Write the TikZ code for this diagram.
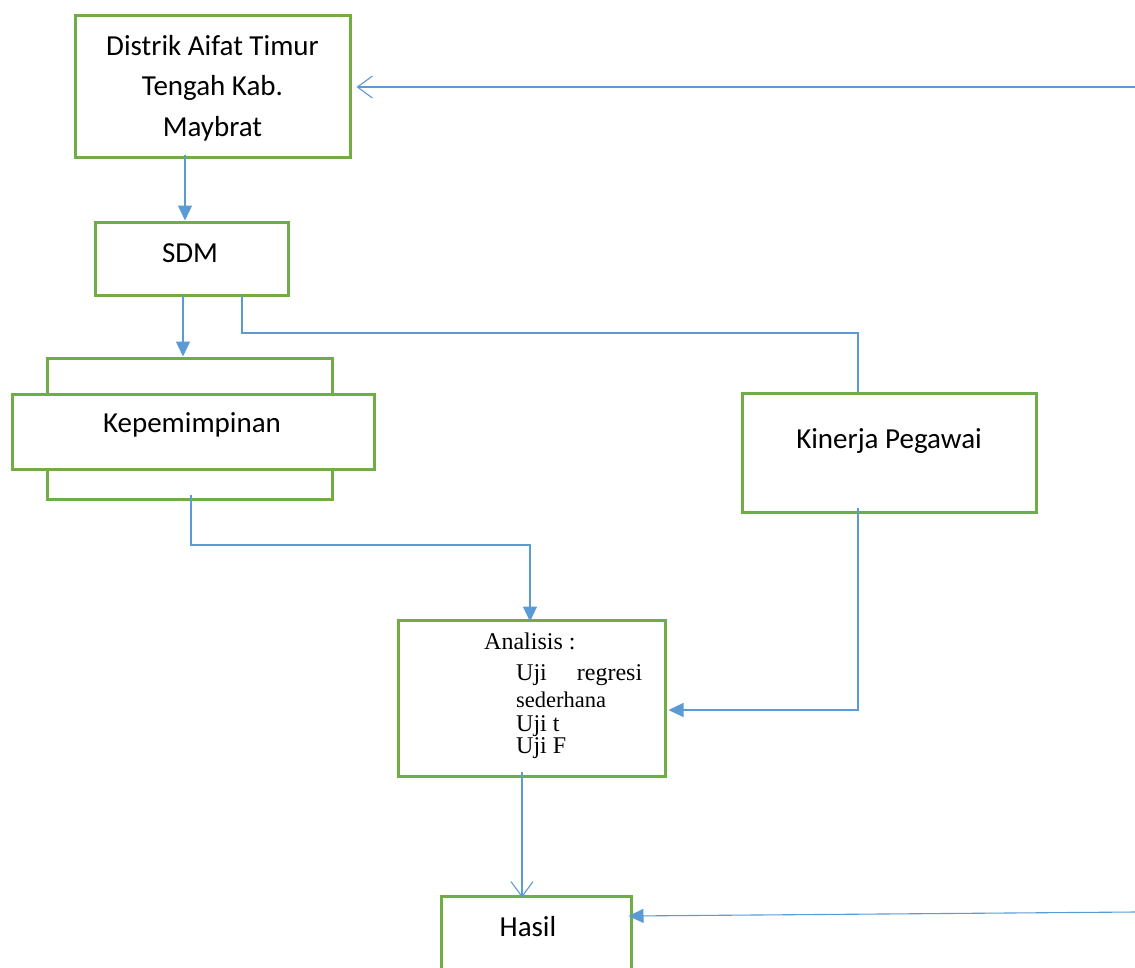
\documentclass[tikz,border=0pt]{standalone}
\usepackage{fontspec}
\setmainfont{Carlito}
\newfontfamily\serifr{Liberation Serif}
\usetikzlibrary{arrows.meta,positioning}
\definecolor{boxgreen}{HTML}{70AD47}
\definecolor{lineblue}{HTML}{5B9BD5}
\tikzset{
  gbox/.style={draw=boxgreen, line width=3pt, fill=white, inner sep=0pt, align=center},
  btext/.style={font=\fontsize{29}{40.5}\selectfont, align=center, inner sep=0pt},
  conn/.style={draw=lineblue, line width=1.1pt},
  fhead/.style={conn, -{Triangle[width=14pt,length=15pt]}},
  ohead/.style={conn, -{Straight Barb[width=22pt,length=15pt,line width=1.1pt]}}
}
\begin{document}
\begin{tikzpicture}[x=1pt,y=-1pt]
\useasboundingbox (0,0) rectangle (1135,967);
\clip (0,0) rectangle (1135,967);
% boxes
\node[gbox, minimum width=275pt, minimum height=142pt] (distrik) at (212.5,86) {};
\node[btext] (distrikt) at (212.5,88) {Distrik Aifat Timur\\Tengah Kab.\\Maybrat};
\node[gbox, minimum width=193pt, minimum height=73pt] (sdm) at (191.5,258.5) {};
\node[btext] (sdmt) at (190,253) {SDM};
\node[gbox, minimum width=285pt, minimum height=141pt] (kepb) at (189.5,428.5) {};
\node[gbox, minimum width=362pt, minimum height=75pt] (kep) at (193,431.5) {};
\node[btext] (kept) at (192,425) {Kepemimpinan};
\node[gbox, minimum width=294pt, minimum height=119pt] (kin) at (889,452.5) {};
\node[btext] (kint) at (889,441) {Kinerja Pegawai};
\node[gbox, minimum width=267pt, minimum height=156pt] (ana) at (531.5,698) {};
\node[anchor=north west, inner sep=0pt, align=left, font=\serifr\fontsize{24}{24}\selectfont] (anat) at (484,633)
 {Analisis :\\[7pt]
  \hspace*{32pt}\makebox[126pt][s]{Uji\hfill regresi}\\[3pt]
  \hspace*{32pt}{\fontsize{22.5}{22}\selectfont sederhana}\\[0pt]
  \hspace*{32pt}Uji t\\[-2pt]
  \hspace*{32pt}Uji F};
\node[gbox, minimum width=190pt, minimum height=100pt] (hasil) at (536,946) {};
\node[btext] (hasilt) at (528,927) {Hasil};
% connectors
\coordinate (topin) at (1135,87);
\coordinate (botin) at (1135,912);
\draw[ohead] (topin) -- ([xshift=5pt]distrik.east |- topin);
\draw[fhead] ([xshift=-27.5pt,yshift=4pt]distrik.south) -- ([xshift=-27.5pt]distrik.south |- sdm.north);
\draw[fhead] ([yshift=2pt]sdm.south -| 183,0) -- (kepb.north -| 183,0);
\draw[conn] ([yshift=2pt]sdm.south -| 242,0) |- (858,333) -- (kin.north -| 858,0);
\draw[fhead] ([yshift=6pt]kepb.south -| 191,0) |- (530,545) -- ([yshift=-3pt]ana.north -| 530,0);
\draw[fhead] ([yshift=6pt]kin.south -| 858,0) |- ([xshift=2pt]ana.east |- 0,710);
\draw[ohead] ([yshift=6pt]ana.south -| 522,0) -- ([yshift=-3pt]hasil.north -| 522,0);
\draw[fhead] (botin) -- ([xshift=-4pt]hasil.east |- 0,916);
\end{tikzpicture}
\end{document}
